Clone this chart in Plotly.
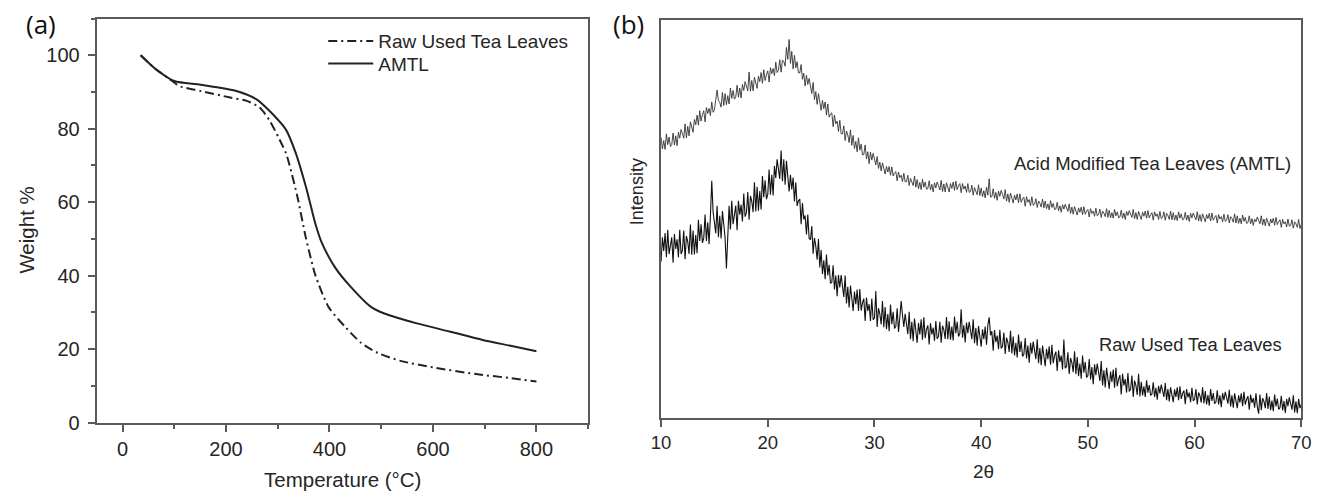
import numpy as np
import plotly.graph_objects as go

# ---------------- (a) TGA ----------------
raw_temp = [35, 62, 100, 110, 151, 208, 240, 265, 284, 303, 316, 322, 338, 354,
            367, 373, 398, 430, 461, 493, 537, 601, 683, 750, 800]
raw_weight = [100, 96.5, 92.6, 91.6, 90.3, 88.5, 87.6, 85.8, 82.3, 77.2, 73.3, 70.5, 61.5, 50.5,
              43.0, 40.0, 31.5, 26.1, 21.7, 19.0, 16.8, 15.0, 13.2, 12.1, 11.2]

amtl_temp = [35, 62, 100, 151, 220, 259, 290, 316, 335, 354, 363, 373, 385, 411,
             442, 480, 506, 569, 632, 696, 750, 800]
amtl_weight = [100, 96.5, 93.0, 92.0, 90.3, 88.0, 84.0, 79.7, 73.3, 64.4, 59.5, 54.0, 49.0, 42.2,
               36.8, 31.5, 29.7, 27.0, 24.8, 22.5, 20.9, 19.4]

# ---------------- (b) XRD ----------------
two_theta = np.linspace(10, 70, 481)   # 0.125 deg step

xrd_amtl = [
    70.4, 67.5, 69.6, 67.4, 71.3, 68.6, 70.5, 68.1,   # 10
    68.6, 71.5, 68.5, 70.8, 68.3, 71.7, 70.2, 72.4,   # 11
    71.4, 70.2, 73.8, 70.3, 73.2, 70.8, 74.3, 72.7,   # 12
    71.7, 74.9, 73.6, 76.0, 73.5, 77.1, 74.5, 76.1,   # 13
    77.1, 74.3, 77.9, 76.4, 77.7, 75.9, 79.3, 76.7,   # 14
    77.3, 79.9, 82.3, 79.7, 79.2, 78.0, 81.7, 78.4,   # 15
    81.4, 78.6, 80.9, 78.8, 82.8, 80.2, 82.2, 80.0,   # 16
    80.6, 83.5, 80.5, 82.8, 80.3, 83.7, 82.2, 84.4,   # 17
    83.4, 82.1, 86.8, 82.0, 84.7, 82.1, 85.5, 83.8,   # 18
    82.7, 85.8, 84.4, 86.7, 84.0, 87.4, 84.7, 86.2,   # 19
    87.1, 84.3, 87.9, 86.4, 87.7, 85.9, 89.3, 86.7,   # 20
    87.3, 89.9, 86.8, 89.8, 89.5, 88.3, 93.0, 90.0,   # 21
    95.0, 89.0, 92.0, 87.6, 91.0, 87.9, 89.4, 86.6,   # 22
    86.6, 88.7, 85.0, 86.5, 83.3, 86.0, 83.7, 85.2,   # 23
    83.4, 81.4, 84.2, 79.9, 81.9, 78.7, 81.4, 79.0,   # 24
    77.2, 79.7, 77.6, 79.3, 76.0, 78.8, 75.5, 76.3,   # 25
    76.6, 73.1, 76.0, 73.8, 74.5, 71.9, 74.7, 71.3,   # 26
    71.3, 73.3, 69.6, 72.0, 71.0, 69.1, 72.3, 68.4,   # 27
    70.9, 67.6, 69.4, 66.8, 70.3, 67.2, 68.7, 66.0,   # 28
    66.1, 68.5, 65.0, 66.8, 63.8, 66.7, 64.7, 66.4,   # 29
    64.8, 63.5, 65.6, 62.6, 64.2, 62.0, 64.0, 62.4,   # 30
    61.2, 63.1, 61.7, 63.1, 60.9, 63.0, 60.7, 61.5,   # 31
    61.8, 59.5, 61.7, 60.3, 60.9, 59.3, 61.4, 59.2,   # 32
    59.3, 60.9, 58.3, 60.1, 59.4, 58.3, 60.7, 57.9,   # 33
    59.8, 57.5, 59.1, 57.3, 59.9, 57.9, 59.2, 57.4,   # 34
    57.5, 59.5, 57.2, 58.6, 56.7, 59.0, 57.7, 59.2,   # 35
    58.3, 57.2, 59.6, 56.8, 58.7, 56.7, 59.0, 57.6,   # 36
    56.7, 58.8, 57.6, 59.2, 57.1, 59.4, 57.3, 58.3,   # 37
    58.8, 56.5, 58.8, 57.4, 58.2, 56.6, 58.8, 56.6,   # 38
    56.8, 58.4, 55.9, 57.8, 57.1, 56.0, 58.5, 55.8,   # 39
    57.7, 55.5, 57.0, 55.2, 57.9, 55.9, 60.0, 55.4,   # 40
    55.5, 57.5, 55.1, 56.6, 54.6, 56.9, 55.6, 57.1,   # 41
    56.1, 54.9, 57.3, 54.4, 56.2, 54.1, 56.4, 54.9,   # 42
    53.9, 55.9, 54.7, 56.2, 54.0, 56.2, 54.1, 55.0,   # 43
    55.4, 53.1, 55.5, 54.1, 54.8, 53.2, 55.5, 53.3,   # 44
    53.6, 55.0, 52.8, 54.4, 53.9, 52.9, 54.9, 52.7,   # 45
    54.4, 52.5, 53.7, 52.2, 54.5, 52.8, 53.8, 52.3,   # 46
    52.4, 54.1, 52.0, 53.2, 51.6, 53.5, 52.4, 53.6,   # 47
    52.7, 51.8, 53.7, 51.3, 52.9, 51.1, 53.0, 51.8,   # 48
    50.9, 52.7, 51.6, 52.9, 51.0, 53.0, 51.1, 51.9,   # 49
    52.3, 50.4, 52.5, 51.3, 51.9, 50.6, 52.6, 50.7,   # 50
    51.0, 52.4, 50.3, 51.9, 51.4, 50.5, 52.5, 50.3,   # 51
    52.1, 50.2, 51.5, 50.1, 52.3, 50.7, 51.7, 50.2,   # 52
    50.4, 52.1, 50.1, 51.4, 49.8, 51.8, 50.8, 52.0,   # 53
    51.2, 50.3, 52.3, 50.0, 51.5, 49.8, 51.8, 50.6,   # 54
    49.8, 51.6, 50.6, 51.9, 50.1, 52.0, 50.2, 51.0,   # 55
    51.5, 49.6, 51.7, 50.6, 51.2, 49.8, 51.8, 50.0,   # 56
    50.3, 51.7, 49.6, 51.3, 50.8, 49.8, 51.9, 49.7,   # 57
    51.5, 49.6, 50.9, 49.5, 51.7, 50.1, 51.2, 49.7,   # 58
    49.9, 51.6, 49.6, 50.9, 49.3, 51.3, 50.2, 51.4,   # 59
    50.6, 49.7, 51.7, 49.4, 51.0, 49.3, 51.2, 50.0,   # 60
    49.2, 51.0, 50.0, 51.3, 49.4, 51.4, 49.6, 50.3,   # 61
    50.8, 48.9, 51.0, 49.9, 50.5, 49.2, 51.1, 49.3,   # 62
    49.6, 51.0, 48.9, 50.5, 50.0, 49.1, 51.2, 48.9,   # 63
    50.7, 48.8, 50.1, 48.7, 50.9, 49.3, 50.3, 48.8,   # 64
    49.0, 50.7, 48.7, 50.0, 48.3, 49.9, 49.2, 50.4,   # 65
    49.6, 48.7, 50.7, 48.4, 49.9, 48.2, 50.1, 48.9,   # 66
    48.1, 49.9, 48.9, 50.1, 48.3, 50.3, 48.5, 49.2,   # 67
    49.7, 47.8, 49.8, 48.7, 49.2, 47.9, 49.9, 48.1,   # 68
    48.3, 49.7, 47.6, 49.2, 48.7, 47.8, 49.8, 47.5,   # 69
    48.6,                                             # 70
]

xrd_raw = [
    39.2, 45.3, 41.9, 46.4, 40.3, 47.2, 41.1, 43.8,   # 10
    45.3, 38.9, 46.1, 42.4, 44.8, 40.3, 47.2, 41.1,   # 11
    42.0, 47.0, 39.8, 45.6, 44.2, 41.1, 48.5, 40.9,   # 12
    47.0, 41.0, 45.9, 41.3, 49.7, 44.4, 48.6, 43.9,   # 13
    45.1, 51.0, 44.4, 49.1, 43.6, 50.6, 59.5, 51.7,   # 14
    49.3, 46.3, 53.2, 45.3, 50.7, 45.0, 51.9, 47.8,   # 15
    45.2, 37.5, 48.4, 53.2, 47.3, 54.5, 48.6, 51.6,   # 16
    53.3, 47.1, 54.5, 51.0, 53.5, 49.3, 56.3, 50.5,   # 17
    51.5, 56.7, 49.7, 55.7, 54.4, 51.6, 59.1, 51.8,   # 18
    58.0, 52.0, 56.9, 52.3, 60.7, 55.4, 59.6, 54.9,   # 19
    56.1, 62.3, 56.0, 61.0, 55.8, 63.2, 60.2, 64.9,   # 20
    62.8, 60.0, 67.1, 59.4, 64.9, 58.5, 64.5, 59.7,   # 21
    56.8, 61.0, 57.3, 60.3, 54.3, 59.1, 53.2, 54.5,   # 22
    54.9, 48.6, 53.9, 49.8, 50.8, 46.0, 51.0, 45.0,   # 23
    44.7, 48.1, 41.2, 45.2, 43.1, 39.7, 44.9, 37.7,   # 24
    42.1, 36.1, 39.5, 34.8, 41.0, 35.7, 38.4, 33.8,   # 25
    33.9, 38.3, 32.2, 35.7, 30.5, 35.8, 32.7, 35.8,   # 26
    33.1, 30.3, 35.7, 28.7, 32.9, 27.7, 33.2, 29.3,   # 27
    26.8, 31.7, 28.5, 32.2, 26.8, 32.3, 26.9, 28.9,   # 28
    29.9, 24.3, 30.2, 26.8, 28.5, 24.3, 29.9, 24.6,   # 29
    25.0, 31.8, 22.8, 27.5, 26.1, 23.4, 29.3, 22.7,   # 30
    27.8, 22.2, 26.0, 21.7, 28.4, 23.5, 26.6, 22.4,   # 31
    22.9, 27.5, 21.5, 25.2, 29.3, 25.8, 22.8, 26.1,   # 32
    23.6, 21.0, 26.6, 19.7, 24.1, 19.2, 24.9, 21.1,   # 33
    18.8, 23.8, 20.9, 24.7, 19.6, 25.2, 20.0, 22.2,   # 34
    23.2, 18.4, 23.7, 20.9, 22.6, 19.3, 24.3, 19.8,   # 35
    20.4, 24.1, 18.8, 23.1, 22.1, 19.8, 25.3, 19.7,   # 36
    24.2, 19.6, 22.9, 19.4, 25.4, 21.2, 24.1, 20.4,   # 37
    21.1, 27.2, 20.1, 23.2, 18.9, 23.9, 21.2, 24.1,   # 38
    22.1, 19.7, 24.7, 18.7, 22.5, 18.1, 23.0, 19.9,   # 39
    17.8, 22.2, 19.7, 22.9, 18.3, 23.3, 25.2, 20.7,   # 40
    21.7, 16.8, 22.0, 19.0, 20.6, 17.2, 22.1, 17.4,   # 41
    17.9, 21.4, 16.0, 20.1, 18.9, 16.5, 21.8, 16.1,   # 42
    20.4, 15.6, 18.8, 15.1, 20.9, 16.5, 19.2, 15.4,   # 43
    15.9, 20.0, 14.9, 18.1, 13.8, 18.8, 16.1, 19.1,   # 44
    17.1, 14.7, 19.7, 13.7, 17.5, 13.2, 18.1, 15.0,   # 45
    12.9, 17.3, 14.7, 17.9, 13.3, 18.3, 13.7, 15.6,   # 46
    16.6, 11.7, 16.9, 14.0, 15.6, 12.1, 19.6, 12.4,   # 47
    12.9, 16.4, 11.0, 15.0, 13.8, 11.4, 16.7, 10.9,   # 48
    15.2, 10.4, 13.6, 9.8, 15.6, 11.3, 14.0, 10.1,    # 49
    10.6, 14.7, 9.6, 12.7, 8.4, 13.4, 10.7, 13.6,     # 50
    11.6, 9.2, 14.2, 8.1, 11.9, 7.6, 12.5, 9.3,       # 51
    7.2, 11.6, 9.0, 12.1, 7.5, 12.5, 7.9, 9.7,        # 52
    10.7, 5.8, 11.0, 8.1, 9.7, 6.3, 11.2, 6.6,        # 53
    7.1, 10.6, 5.2, 9.3, 8.1, 5.7, 11.0, 5.3,         # 54
    9.0, 5.6, 7.9, 5.2, 9.4, 6.3, 8.2, 5.6,           # 55
    5.9, 8.9, 5.2, 7.5, 4.5, 8.0, 6.1, 8.3,           # 56
    6.8, 5.2, 8.7, 4.4, 7.2, 4.1, 7.6, 5.4,           # 57
    3.9, 7.1, 5.2, 7.6, 4.4, 7.9, 4.7, 6.1,           # 58
    6.8, 3.4, 7.2, 5.1, 6.3, 3.9, 7.5, 4.2,           # 59
    4.6, 7.2, 3.3, 6.3, 5.5, 3.8, 7.6, 3.6,           # 60
    6.7, 3.3, 5.7, 3.0, 7.2, 4.2, 6.2, 3.5,           # 61
    3.9, 6.9, 3.3, 5.6, 2.6, 6.2, 4.4, 6.5,           # 62
    5.1, 3.5, 7.0, 2.8, 5.6, 2.5, 6.1, 3.9,           # 63
    2.4, 5.6, 3.8, 6.1, 2.9, 6.5, 3.3, 4.6,           # 64
    5.4, 2.0, 5.8, 3.7, 4.9, 2.5, 6.1, 2.8,           # 65
    1.0, 5.8, 1.9, 4.9, 4.1, 2.4, 6.2, 2.2,           # 66
    5.3, 1.9, 4.3, 1.6, 5.8, 2.8, 4.8, 2.1,           # 67
    2.5, 5.5, 1.8, 4.2, 1.2, 4.7, 2.9, 5.1,           # 68
    3.6, 2.0, 5.6, 1.3, 4.1, 1.1, 4.7, 2.4,           # 69
    3.3,                                              # 70
]

W, H = 1331, 503
FONT = "Liberation Sans, Arial, sans-serif"
AXIS_COLOR = "#5a5a5a"
TEXT_COLOR = "#262626"


def px_x(x):
    return x / W


def px_y(y):
    return 1 - y / H


fig = go.Figure()

fig.add_trace(go.Scatter(
    x=raw_temp, y=raw_weight, mode="lines", name="Raw Used Tea Leaves", legend="legend",
    line=dict(color="#222222", width=2, dash="9px,4px,2px,4px", shape="spline", smoothing=0.7),
    xaxis="x", yaxis="y",
))
fig.add_trace(go.Scatter(
    x=amtl_temp, y=amtl_weight, mode="lines", name="AMTL", legend="legend2",
    line=dict(color="#222222", width=2, shape="spline", smoothing=0.7),
    xaxis="x", yaxis="y",
))

fig.add_trace(go.Scatter(
    x=two_theta, y=xrd_amtl, mode="lines", showlegend=False,
    line=dict(color="#333333", width=0.9),
    xaxis="x2", yaxis="y2",
))
fig.add_trace(go.Scatter(
    x=two_theta, y=xrd_raw, mode="lines", showlegend=False,
    line=dict(color="#111111", width=1.1),
    xaxis="x2", yaxis="y2",
))

common = dict(showline=True, linecolor=AXIS_COLOR, linewidth=2, mirror=True,
              showgrid=False, zeroline=False, ticks="outside", tickcolor=AXIS_COLOR,
              tickwidth=2, ticklen=7)
minor_style = dict(ticks="outside", ticklen=4, tickcolor=AXIS_COLOR, tickwidth=2)
legend_style = dict(xanchor="left", yanchor="middle", bgcolor="rgba(0,0,0,0)",
                    font=dict(family=FONT, size=19, color=TEXT_COLOR),
                    itemwidth=45, borderwidth=0)

fig.update_layout(
    width=W, height=H,
    margin=dict(l=0, r=0, t=0, b=0),
    paper_bgcolor="white", plot_bgcolor="white",
    xaxis=dict(domain=[px_x(88), px_x(587)], range=[-50, 900], tick0=0, dtick=200,
               minor=dict(dtick=100, tick0=0, **minor_style), anchor="y",
               tickfont=dict(family=FONT, size=20, color=TEXT_COLOR), **common),
    yaxis=dict(domain=[px_y(432), px_y(19)], range=[0, 110], tick0=0, dtick=20,
               minor=dict(dtick=10, tick0=0, **minor_style), anchor="x",
               ticklabelstandoff=4,
               tickfont=dict(family=FONT, size=20, color=TEXT_COLOR), **common),
    xaxis2=dict(domain=[px_x(661), px_x(1311)], range=[10, 70], tick0=10, dtick=10,
                anchor="y2", tickfont=dict(family=FONT, size=18.5, color=TEXT_COLOR),
                **common),
    yaxis2=dict(domain=[px_y(427), px_y(20)], range=[0, 100], anchor="x2",
                showline=True, linecolor=AXIS_COLOR, linewidth=2, mirror=True,
                showgrid=False, zeroline=False, ticks="", showticklabels=False),
    legend=dict(x=px_x(318), y=px_y(42), **legend_style),
    legend2=dict(x=px_x(318), y=px_y(65), **legend_style),
    showlegend=True,
)

annotations = [
    dict(text="Weight %", x=px_x(17), y=px_y(235), textangle=-90,
         font=dict(family=FONT, size=20.5, color=TEXT_COLOR)),
    dict(text="Temperature (°C)", x=px_x(338), y=px_y(490),
         font=dict(family=FONT, size=20.5, color=TEXT_COLOR)),
    dict(text="Intensity", x=px_x(636), y=px_y(196), textangle=-90,
         font=dict(family=FONT, size=18, color=TEXT_COLOR)),
    dict(text="2θ", x=px_x(988), y=px_y(482),
         font=dict(family=FONT, size=19, color=TEXT_COLOR)),
    dict(text="Acid Modified Tea Leaves (AMTL)", x=px_x(1303), y=px_y(167),
         xanchor="right", font=dict(family=FONT, size=18.5, color=TEXT_COLOR)),
    dict(text="Raw Used Tea Leaves", x=px_x(1293), y=px_y(352),
         xanchor="right", font=dict(family=FONT, size=18.3, color=TEXT_COLOR)),
    dict(text="(a)", x=px_x(14), y=px_y(25), xanchor="left",
         font=dict(family="Open Sans, Noto Sans, sans-serif", size=26, color="#111111"),
         bgcolor="white"),
    dict(text="(b)", x=px_x(610), y=px_y(25), xanchor="left",
         font=dict(family="Open Sans, Noto Sans, sans-serif", size=26, color="#111111"),
         bgcolor="white"),
]
for a in annotations:
    a.setdefault("xanchor", "center")
    a.update(xref="paper", yref="paper", showarrow=False, yanchor="middle")
fig.update_layout(annotations=annotations)

fig.write_html("out.html")
